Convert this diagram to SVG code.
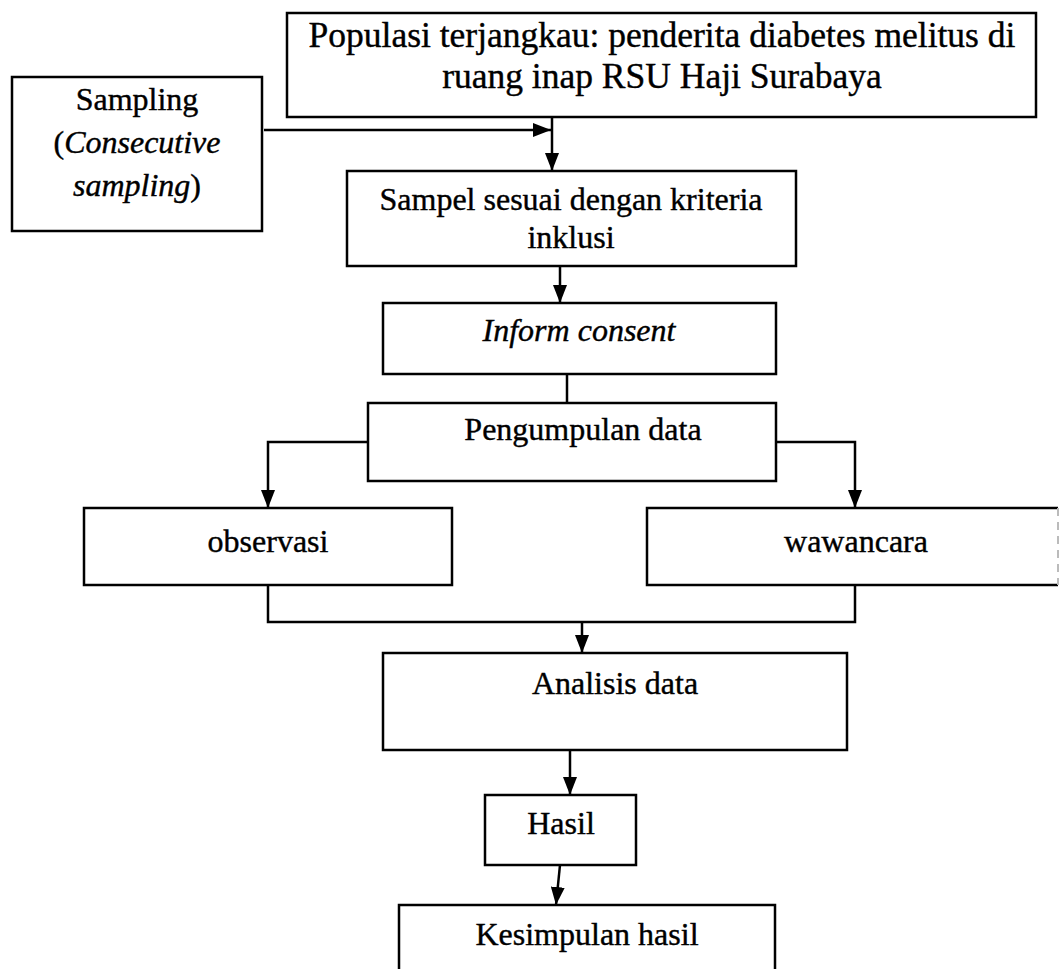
<svg xmlns="http://www.w3.org/2000/svg" width="1061" height="969" viewBox="0 0 1061 969">
<defs>
<marker id="ah" markerWidth="18" markerHeight="14" refX="18" refY="7" orient="auto" markerUnits="userSpaceOnUse"><path d="M0,0 L18,7 L0,14 z" fill="#000"/></marker>
<style>
.box{fill:#fff;stroke:#000;stroke-width:2.5}
.t{font-family:"Liberation Serif","Times New Roman",serif;font-size:32px;fill:#000;stroke:#000;stroke-width:0.4;text-anchor:middle}
.big{font-size:35.5px}
.i{font-style:italic}
.c{fill:none;stroke:#000;stroke-width:2.5}
</style>
</defs>
<rect width="1061" height="969" fill="#fff"/>
<g id="connectors">
<path class="c" d="M264,130 H551" marker-end="url(#ah)"/>
<path class="c" d="M552,117 V171" marker-end="url(#ah)"/>
<path class="c" d="M560,266 V303" marker-end="url(#ah)"/>
<path class="c" d="M567,374 V403"/>
<path class="c" d="M368,442 H268 V508" marker-end="url(#ah)"/>
<path class="c" d="M776,442 H855 V508" marker-end="url(#ah)"/>
<path class="c" d="M268,585 V622 H855 V585"/>
<path class="c" d="M582,622 V653" marker-end="url(#ah)"/>
<path class="c" d="M570,750 V795" marker-end="url(#ah)"/>
<path class="c" d="M560,865 L556,905" marker-end="url(#ah)"/>
</g>
<g id="populasi">
<rect class="box" x="287" y="13" width="749" height="104"/>
<text class="t big" x="662" y="47">Populasi terjangkau: penderita diabetes melitus di</text>
<text class="t big" x="662" y="88">ruang inap RSU Haji Surabaya</text>
</g>
<g id="sampling">
<rect class="box" x="12" y="77" width="250" height="154"/>
<text class="t" x="137" y="110">Sampling</text>
<text class="t" x="137" y="153">(<tspan class="i">Consecutive</tspan></text>
<text class="t" x="137" y="196"><tspan class="i">sampling</tspan>)</text>
</g>
<g id="sampel">
<rect class="box" x="347" y="171" width="449" height="95"/>
<text class="t" x="571" y="210">Sampel sesuai dengan kriteria</text>
<text class="t" x="571" y="248">inklusi</text>
</g>
<g id="inform">
<rect class="box" x="383" y="303" width="393" height="71"/>
<text class="t i" x="579" y="341">Inform consent</text>
</g>
<g id="pengumpulan">
<rect class="box" x="368" y="403" width="408" height="78"/>
<text class="t" x="583" y="440">Pengumpulan data</text>
</g>
<g id="observasi">
<rect class="box" x="84" y="508" width="368" height="77"/>
<text class="t" x="268" y="552">observasi</text>
</g>
<g id="wawancara">
<path class="c" d="M1058,508 H647 V585 H1058"/>
<path d="M1058,508 V585" fill="none" stroke="#bbb" stroke-width="2" stroke-dasharray="8,6"/>
<text class="t" x="856" y="552">wawancara</text>
</g>
<g id="analisis">
<rect class="box" x="383" y="653" width="464" height="97"/>
<text class="t" x="615" y="694">Analisis data</text>
</g>
<g id="hasil">
<rect class="box" x="485" y="795" width="151" height="70"/>
<text class="t" x="561" y="834">Hasil</text>
</g>
<g id="kesimpulan">
<rect class="box" x="399" y="905" width="376" height="80"/>
<text class="t" x="587" y="945">Kesimpulan hasil</text>
</g>
</svg>
